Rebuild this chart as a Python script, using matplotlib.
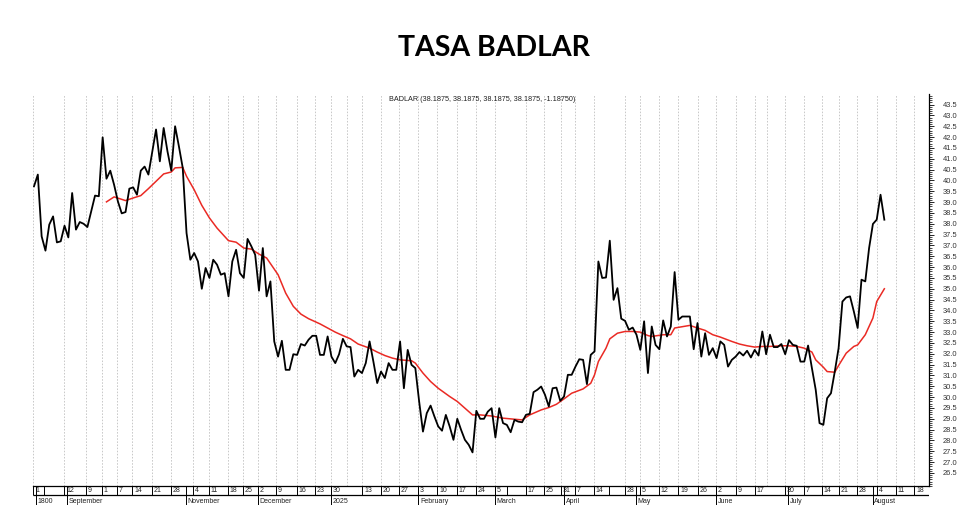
import matplotlib.pyplot as plt
from matplotlib.ticker import MultipleLocator, FixedLocator, FormatStrFormatter

# daily BADLAR closes, one value per trading bar
badlar = [
    39.73, 40.27, 37.42, 36.76, 37.96, 38.34, 37.14, 37.19, 37.91, 37.37,
    39.42, 37.73, 38.08, 38.00, 37.85, 38.57, 39.30, 39.27, 41.99, 40.08,
    40.45, 39.80, 39.03, 38.48, 38.54, 39.62, 39.68, 39.34, 40.45, 40.64,
    40.27, 41.30, 42.35, 40.88, 42.42, 41.34, 40.45, 42.50, 41.57, 40.58,
    37.57, 36.34, 36.65, 36.26, 35.00, 35.96, 35.50, 36.34, 36.11, 35.65,
    35.72, 34.65, 36.26, 36.80, 35.72,
    35.50, 37.30, 36.96, 36.57, 34.91, 36.88, 34.65, 35.34, 32.57, 31.87,
    32.60, 31.26, 31.26, 31.98, 31.95, 32.45, 32.38, 32.65, 32.83, 32.83,
    31.95, 31.95, 32.80, 31.87, 31.57, 31.98, 32.69, 32.34, 32.31, 30.95,
    31.26, 31.11, 31.57, 32.57, 31.64, 30.65, 31.18, 30.88, 31.57, 31.26,
    31.26, 32.57, 30.41, 32.18, 31.49, 31.34, 29.80, 28.41, 29.26, 29.61,
    29.11, 28.65, 28.45, 29.18,
    28.65, 28.03, 29.00, 28.49, 28.03, 27.80, 27.45, 29.37, 29.00, 29.00,
    29.33, 29.49, 28.14, 29.49, 28.80, 28.72, 28.38, 28.95, 28.87, 28.84,
    29.18, 29.23, 30.23, 30.34, 30.49, 30.11, 29.57, 30.41, 30.44, 29.83,
    30.03, 31.03, 31.03, 31.41, 31.75, 31.72, 30.60, 31.95, 32.11, 36.26,
    35.50, 35.52, 37.22, 34.49, 35.03, 33.62, 33.52, 33.11, 33.21, 32.88,
    32.18, 33.50, 31.11, 33.26,
    32.41, 32.21, 33.54, 32.80, 33.26, 35.77, 33.57, 33.72, 33.72, 33.72,
    32.21, 33.42, 31.87, 32.95, 31.95, 32.26, 31.80, 32.57, 32.41, 31.41,
    31.72, 31.87, 32.08, 31.92, 32.14, 31.83, 32.18, 31.92, 33.03, 31.98,
    32.88, 32.31, 32.31, 32.45, 31.98, 32.63, 32.41, 32.37, 31.64, 31.64,
    32.38, 31.34, 30.34, 28.80, 28.72, 29.95, 30.18, 31.18, 32.26, 34.41,
    34.60, 34.65, 33.95, 33.19, 35.42, 35.34, 36.88, 37.99, 38.19, 39.34,
    38.1875,
]

# red average line at these bars
avg_bar = [19, 21, 24, 26, 28, 30, 32, 34, 36, 37, 39, 40, 42, 44, 46, 48,
           51, 53, 55, 57, 59, 61, 64, 66, 68, 70, 72, 75, 77, 79, 81, 83,
           85, 88, 90, 92, 94, 96, 99, 100, 102, 104, 106, 109, 111, 113,
           115, 117, 120, 123, 126, 128, 130, 133, 135, 137, 139, 141, 144,
           146, 147, 148, 150, 151, 153, 155, 157, 159, 161, 162, 165, 167,
           168, 172, 174, 176, 178, 180, 183, 185, 187, 189, 191, 193, 196,
           198, 200, 202, 204, 205, 207, 208, 210, 211, 213, 215, 216, 218,
           220, 221, 223]
avg_val = [39.01, 39.24, 39.07, 39.19, 39.30, 39.62, 39.96, 40.30, 40.39,
           40.58, 40.60, 40.19, 39.57, 38.85, 38.27, 37.80, 37.22, 37.15,
           36.88, 36.83, 36.60, 36.42, 35.65, 34.80, 34.19, 33.83, 33.62,
           33.38, 33.19, 33.00, 32.84, 32.69, 32.45, 32.26, 32.08, 31.92,
           31.80, 31.72, 31.68, 31.57, 31.11, 30.72, 30.41, 30.03, 29.80,
           29.49, 29.18, 29.18, 29.13, 29.03, 28.98, 28.95, 29.18, 29.41,
           29.52, 29.67, 29.92, 30.18, 30.38, 30.64, 31.03, 31.64, 32.26,
           32.69, 32.95, 33.03, 33.03, 33.00, 32.84, 32.80, 32.88, 32.88,
           33.19, 33.31, 33.19, 33.08, 32.88, 32.77, 32.57, 32.45, 32.37,
           32.31, 32.34, 32.34, 32.37, 32.37, 32.34, 32.26, 32.08, 31.72,
           31.38, 31.18, 31.15, 31.46, 32.03, 32.34, 32.41, 32.88, 33.65,
           34.41, 35.00]

# weekly grid (bar positions)
grid_bars = [-0.18, 7.95, 13.64, 17.75, 21.69, 25.78, 30.87, 35.85, 41.78,
             45.9, 50.8, 54.89, 58.67, 63.47, 68.9, 73.7, 77.9, 82.0, 86.1,
             90.9, 95.7, 100.8, 105.8, 110.9, 115.8, 120.9, 128.95, 133.75,
             138.1, 141.9, 146.9, 155.0, 158.9, 163.9, 169.0, 174.0, 178.9,
             184.1, 189.1, 192.2, 197.0, 202.0, 206.6, 211.1, 215.9, 221.2,
             226.0, 230.9]

day_bars = [-0.18, 2.7, 7.95, 13.64, 17.75, 21.69, 25.78, 30.87, 35.85,
            41.78, 45.9, 50.8, 54.89, 58.67, 63.47, 68.9, 73.7, 77.9, 86.1,
            90.9, 95.7, 100.8, 105.8, 110.9, 115.8, 120.9, 123.97, 128.95,
            133.75, 138.1, 141.9, 146.9, 150.8, 155.0, 158.9, 163.9, 169.0,
            174.0, 178.9, 184.1, 189.1, 197.0, 202.0, 206.6, 211.1, 215.9,
            221.2, 226.0, 230.9]
day_labels = ['1', '', '12', '9', '1', '7', '14', '21', '28',
              '4', '11', '18', '25', '2', '9', '16', '23', '30', '13',
              '20', '27', '3', '10', '17', '24', '5', '', '17',
              '25', '31', '7', '14', '', '28', '5', '12', '19',
              '26', '2', '9', '17', '30', '7', '14', '21', '28',
              '4', '11', '18']

month_bars = [0.45, 8.58, 39.8, 58.67, 77.9, 100.8, 120.9, 139.0, 157.8,
              178.8, 197.8, 219.9]
month_labels = ['1800', 'September', 'November', 'December', '2025',
                'February', 'March', 'April', 'May', 'June', 'July', 'August']

y_labels = [26.5 + 0.5 * k for k in range(35)]

small = 'Liberation Sans'
x_lim = (-0.26, 234.72)
y_lim = (25.9, 43.99)

fig = plt.figure(figsize=(9.8, 5.22), dpi=100)
ax = fig.add_axes([0.0337, 0.069, 0.9143, 0.751])

ax.vlines(grid_bars, y_lim[0], y_lim[1], colors='#c8c8c8',
          linestyles=(0, (1.6, 1.6)), linewidth=0.7, zorder=1)
ax.plot(range(len(badlar)), badlar, color='black', linewidth=1.3, zorder=3)
ax.plot(avg_bar, avg_val, color='#ea2a24', linewidth=1.1, zorder=2)

ax.set_xlim(*x_lim)
ax.set_ylim(*y_lim)
ax.spines['top'].set_visible(False)
ax.spines['left'].set_visible(False)
ax.spines['bottom'].set_linewidth(0.9)
ax.spines['right'].set_linewidth(0.9)
ax.set_xticks([])
ax.yaxis.tick_right()
ax.yaxis.set_major_locator(FixedLocator(y_labels))
ax.yaxis.set_minor_locator(MultipleLocator(0.1))
ax.yaxis.set_major_formatter(FormatStrFormatter('%.1f'))
ax.tick_params(axis='y', which='major', direction='out', length=3.5,
               width=0.6, pad=6.5, labelsize=5.4, labelcolor='#333333')
ax.tick_params(axis='y', which='minor', direction='out', length=1.8, width=0.5)
for lab in ax.get_yticklabels():
    lab.set_family(small)

ax.text(0.397, 1.0 - 6 / 392, 'BADLAR (38.1875, 38.1875, 38.1875, 38.1875, -1.18750)',
        transform=ax.transAxes, ha='left', va='center', fontsize=5.2,
        family=small, color='#222222')

fig.text(0.5036, 0.909, 'TASA BADLAR', ha='center', va='center',
         fontsize=20.5, fontweight='bold', family='Lato')

# date strip under the chart
strip = fig.add_axes([0.0337, 0.03257, 0.9143, 0.0364])
strip.set_xlim(*x_lim)
strip.set_ylim(0, 1)
strip.axis('off')
mid = 0.526
strip.hlines(mid, x_lim[0], x_lim[1], colors='black', linewidth=0.9)
strip.vlines(day_bars, mid, 1, colors='black', linewidth=0.7)
strip.vlines(month_bars, 0, 1, colors='black', linewidth=0.7)
for b, t in zip(day_bars, day_labels):
    strip.text(b + 0.45, 0.76, t, ha='left', va='center', fontsize=5,
               family=small, color='#222222')
for b, t in zip(month_bars, month_labels):
    strip.text(b + 0.45, 0.2, t, ha='left', va='center', fontsize=5,
               family=small, color='#222222')

fig.savefig('out.png', dpi=100)
